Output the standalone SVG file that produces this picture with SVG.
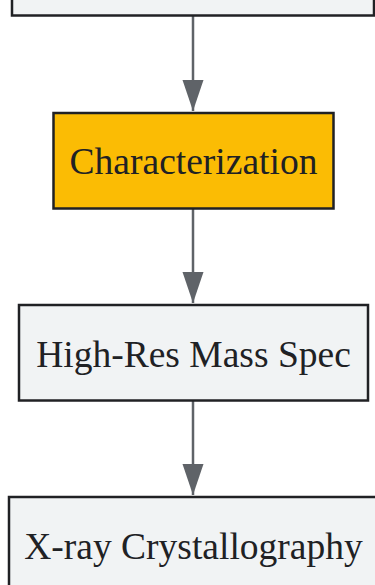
<svg xmlns="http://www.w3.org/2000/svg" width="375" height="585" viewBox="0 0 375 585">
<style>
.box{stroke:#202124;stroke-width:2.5}
.gray{fill:#f1f3f4}
.yellow{fill:#fbbc04}
.lbl{font-family:"Liberation Serif","Times New Roman",serif;font-size:37.5px;fill:#202124;text-anchor:middle}
.edge{stroke:#5f6368;stroke-width:2.5;fill:none}
</style>
<defs>
<marker id="arr" markerUnits="userSpaceOnUse" markerWidth="31" markerHeight="22" refX="31" refY="11" orient="auto">
<path d="M0,0.5 L31,11 L0,21.5 Z" fill="#5f6368"/>
</marker>
</defs>
<rect width="375" height="585" fill="#ffffff"/>
<g id="connectors">
<line class="edge" x1="193" y1="16" x2="193" y2="111" marker-end="url(#arr)"/>
<line class="edge" x1="193" y1="209" x2="193" y2="303" marker-end="url(#arr)"/>
<line class="edge" x1="193" y1="401" x2="193" y2="495" marker-end="url(#arr)"/>
</g>
<g id="node-top">
<rect class="box gray" x="12" y="-100" width="362" height="115.5"/>
</g>
<g id="node-characterization">
<rect class="box yellow" x="53.5" y="113" width="280" height="95.5"/>
<text class="lbl" x="193.5" y="174">Characterization</text>
</g>
<g id="node-hrms">
<rect class="box gray" x="19" y="305" width="349" height="95.5"/>
<text class="lbl" x="193.5" y="367">High-Res Mass Spec</text>
</g>
<g id="node-xray">
<rect class="box gray" x="9" y="497" width="370" height="120"/>
<text class="lbl" x="193.5" y="559">X-ray Crystallography</text>
</g>
</svg>
